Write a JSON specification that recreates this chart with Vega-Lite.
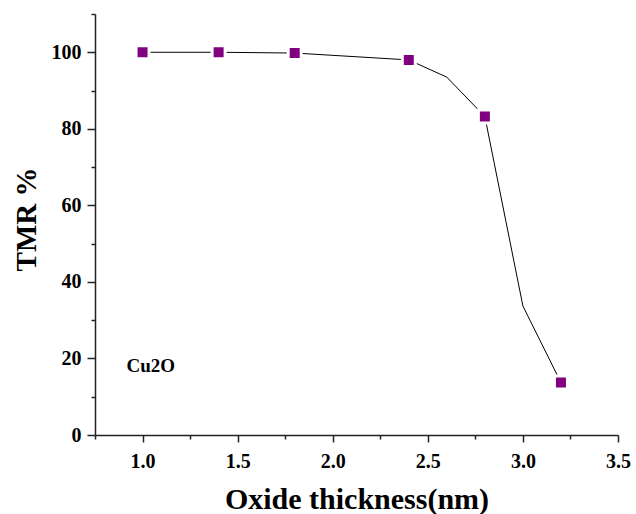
{
  "$schema": "https://vega.github.io/schema/vega-lite/v6.json",
  "width": 523,
  "height": 421,
  "autosize": "none",
  "padding": {"left": 95, "top": 14, "right": 18, "bottom": 79},
  "background": "white",
  "config": {"view": {"stroke": null}, "font": "Liberation Serif"},
  "datasets": {
    "curve": [
      {"thickness": 1.0, "tmr": 100.0},
      {"thickness": 1.4, "tmr": 100.0},
      {"thickness": 1.8, "tmr": 99.8},
      {"thickness": 2.4, "tmr": 98.0},
      {"thickness": 2.6, "tmr": 93.5},
      {"thickness": 2.8, "tmr": 83.2},
      {"thickness": 3.0, "tmr": 33.7},
      {"thickness": 3.2, "tmr": 13.7}
    ],
    "points": [
      {"thickness": 1.0, "tmr": 100.0},
      {"thickness": 1.4, "tmr": 100.0},
      {"thickness": 1.8, "tmr": 99.8},
      {"thickness": 2.4, "tmr": 98.0},
      {"thickness": 2.8, "tmr": 83.2},
      {"thickness": 3.2, "tmr": 13.7}
    ],
    "notes": [
      {"thickness": 0.916, "tmr": 16.4, "label": "Cu2O"}
    ]
  },
  "encoding": {
    "x": {
      "field": "thickness",
      "type": "quantitative",
      "scale": {"domain": [0.75, 3.5], "nice": false, "zero": false},
      "axis": {
        "values": [0.75, 1, 1.25, 1.5, 1.75, 2, 2.25, 2.5, 2.75, 3, 3.25, 3.5],
        "format": ".1f",
        "labelExpr": "(datum.value * 2) % 1 === 0 ? datum.label : ''",
        "tickSize": {"condition": {"test": "(datum.value * 2) % 1 === 0", "value": 7}, "value": 4},
        "grid": false,
        "domainColor": "#222",
        "domainWidth": 1.5,
        "tickColor": "#222",
        "tickWidth": 1.5,
        "labelFont": "Liberation Serif",
        "labelFontSize": 20,
        "labelFontWeight": "bold",
        "labelColor": "black",
        "labelPadding": 9,
        "labelOverlap": false,
        "labelFlush": false,
        "title": "Oxide thickness(nm)",
        "titleFont": "Liberation Serif",
        "titleFontSize": 30,
        "titleFontWeight": "bold",
        "titleColor": "black",
        "titleBaseline": "alphabetic",
        "titleY": 73
      }
    },
    "y": {
      "field": "tmr",
      "type": "quantitative",
      "scale": {"domain": [0, 110], "nice": false},
      "axis": {
        "values": [0, 10, 20, 30, 40, 50, 60, 70, 80, 90, 100, 110],
        "labelExpr": "datum.value % 20 === 0 ? datum.label : ''",
        "tickSize": {"condition": {"test": "datum.value % 20 === 0", "value": 8}, "value": 4},
        "grid": false,
        "domainColor": "#222",
        "domainWidth": 1.5,
        "tickColor": "#222",
        "tickWidth": 1.5,
        "labelFont": "Liberation Serif",
        "labelFontSize": 20,
        "labelFontWeight": "bold",
        "labelColor": "black",
        "labelPadding": 6,
        "labelOverlap": false,
        "labelFlush": false,
        "title": "TMR %",
        "titleFont": "Liberation Serif",
        "titleFontSize": 29,
        "titleFontWeight": "bold",
        "titleColor": "black",
        "titleAngle": -90,
        "titleAlign": "center",
        "titleBaseline": "alphabetic",
        "titleX": -60,
        "titleY": 205
      }
    }
  },
  "layer": [
    {
      "data": {"name": "curve"},
      "mark": {"type": "line", "color": "black", "strokeWidth": 1}
    },
    {
      "data": {"name": "points"},
      "mark": {"type": "point", "shape": "square", "filled": true, "size": 169, "fill": "#800080", "stroke": "white", "strokeWidth": 3, "opacity": 1}
    },
    {
      "data": {"name": "notes"},
      "mark": {"type": "text", "align": "left", "baseline": "alphabetic", "font": "Liberation Serif", "fontSize": 19, "fontWeight": "bold", "fill": "black"},
      "encoding": {
        "text": {"field": "label", "type": "nominal"}
      }
    }
  ]
}
